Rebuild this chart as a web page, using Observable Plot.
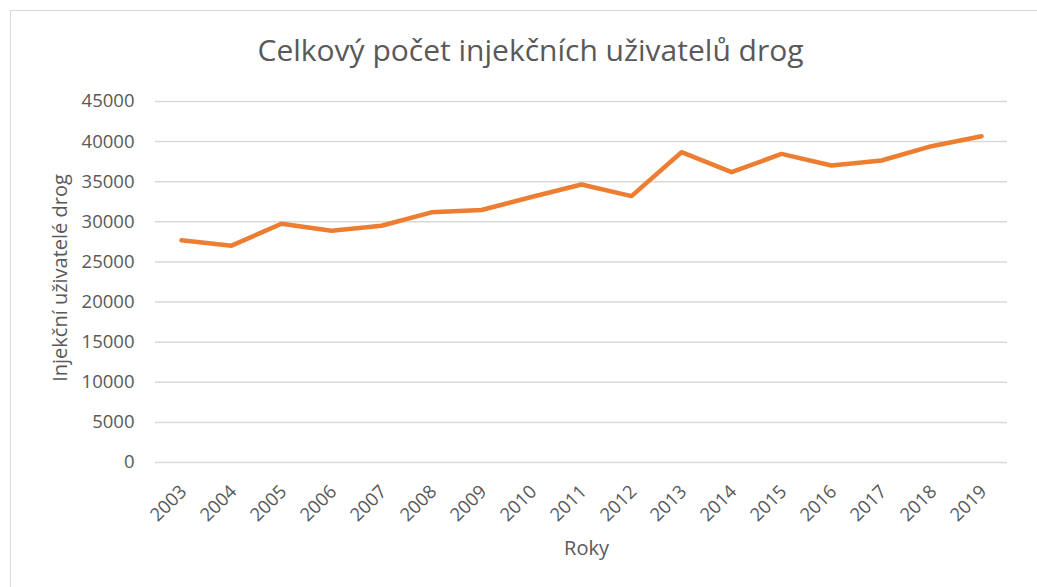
<!DOCTYPE html>
<html>
<head>
<meta charset="utf-8">
<script src="https://cdn.jsdelivr.net/npm/d3@7"></script>
<script src="https://cdn.jsdelivr.net/npm/@observablehq/plot@0.6"></script>
<style>
  body { margin: 0; background: #fff; }
  #wrap { position: relative; width: 1037px; height: 587px; overflow: hidden; }
  #border { position: absolute; left: 10px; top: 10px; width: 1100px; height: 700px;
            border-left: 1.5px solid #d9d9d9; border-top: 1.5px solid #d9d9d9; pointer-events: none; }
</style>
</head>
<body>
<div id="wrap"><div id="border"></div></div>
<script>
const title = "Celkový počet injekčních uživatelů drog";
const yLabel = "Injekční uživatelé drog";
const xLabel = "Roky";
const years = ["2003","2004","2005","2006","2007","2008","2009","2010","2011","2012","2013","2014","2015","2016","2017","2018","2019"];
const users = [27700, 27030, 29760, 28890, 29510, 31180, 31470, 33100, 34660, 33210, 38680, 36190, 38470, 37030, 37650, 39430, 40670];
const yTicks = [0, 5000, 10000, 15000, 20000, 25000, 30000, 35000, 40000, 45000];

const data = years.map((y, i) => ({year: y, value: users[i]}));
const font = "'Open Sans', sans-serif";
const grey = "#595959";

const chart = Plot.plot({
  width: 1037,
  height: 587,
  marginLeft: 155,
  marginRight: 30,
  marginTop: 101,
  marginBottom: 125,
  style: {fontFamily: font, color: grey, background: "transparent", overflow: "visible"},
  x: {type: "point", domain: years, padding: 0.5, label: null},
  y: {domain: [0, 45000], label: null},
  marks: [
    Plot.ruleY(yTicks, {stroke: "#d9d9d9", strokeWidth: 1.5}),
    Plot.axisY({ticks: yTicks, tickSize: 0, tickPadding: 21, tickFormat: d => String(d), fontSize: 18.5, fill: grey}),
    Plot.axisX({tickSize: 0, tickRotate: -45, tickPadding: 26, dx: 2, fontSize: 18.5, fill: grey}),
    Plot.line(data, {x: "year", y: "value", stroke: "#ed7d31", strokeWidth: 4.5, strokeLinejoin: "round", strokeLinecap: "round"}),
    Plot.text([title], {frameAnchor: "top", dx: -51, dy: -50, fontSize: 30, fill: grey, lineAnchor: "middle", text: d => d}),
    Plot.text([xLabel], {frameAnchor: "bottom", dx: 5, dy: 86, fontSize: 20, fill: grey, lineAnchor: "middle", text: d => d}),
    Plot.text([yLabel], {frameAnchor: "left", dx: -95, dy: -4, rotate: -90, textAnchor: "middle", fontSize: 20, fill: grey, lineAnchor: "middle", text: d => d})
  ]
});
document.getElementById("wrap").prepend(chart);
</script>
</body>
</html>
